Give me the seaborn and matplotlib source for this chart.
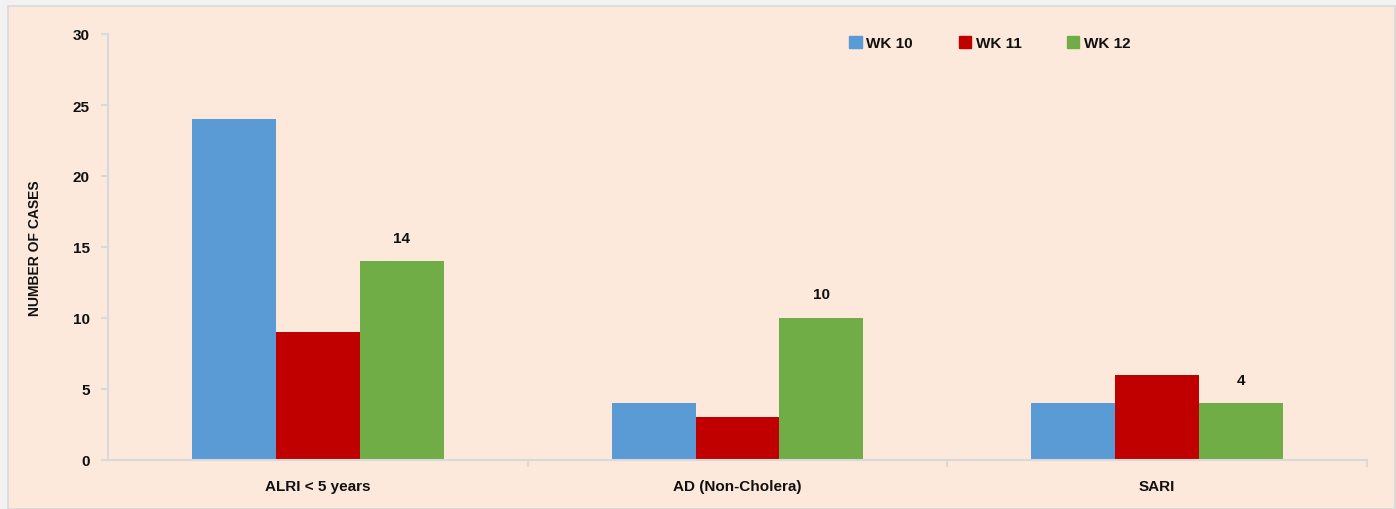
import matplotlib.pyplot as plt
import matplotlib.patches as mpatches
import pandas as pd
import seaborn as sns

categories = ['ALRI < 5 years', 'AD (Non-Cholera)', 'SARI']
weeks = ['WK 10', 'WK 11', 'WK 12']
wk10 = [24, 4, 4]
wk11 = [9, 3, 6]
wk12 = [14, 10, 4]
colors = ['#5b9bd5', '#c00000', '#70ad47']

df = pd.DataFrame({
    'category': categories * 3,
    'week': [w for w in weeks for _ in categories],
    'cases': wk10 + wk11 + wk12,
})

sns.set_style('white')
plt.rcParams['font.family'] = 'Liberation Sans'
plt.rcParams['font.weight'] = 'bold'
plt.rcParams['text.color'] = '#111111'

W, H = 1396, 510
fig = plt.figure(figsize=(W / 100, H / 100), dpi=100, facecolor='#f2f2f2')
bg = mpatches.Rectangle((8 / W, 0), (W - 9) / W, (H - 7) / H, transform=fig.transFigure,
                        facecolor='#fde9db', edgecolor='#d9d9d9', lw=1.2, zorder=-10)
fig.patches.append(bg)

ax = fig.add_axes([108 / W, (H - 461) / H, (1367 - 108) / W, (461 - 35) / H])
ax.set_facecolor('none')

sns.barplot(data=df, x='category', y='cases', hue='week', palette=colors,
            width=0.6, gap=0, saturation=1, linewidth=0, ax=ax, legend=False)

ax.set_ylim(0, 30)
ax.set_yticks(range(0, 31, 5))
ax.set_xlim(-0.5, 2.5)
ax.set_xticks([0, 1, 2])
ax.set_xticklabels(categories, fontsize=11, fontweight='bold', color='#111111')
ax.set_xticks([0.5, 1.5, 2.5], minor=True)
ax.tick_params(axis='x', which='major', bottom=True, length=0, pad=14)
ax.tick_params(axis='x', which='minor', bottom=True, length=5, color='#d9d9d9', width=1.5)
ax.tick_params(axis='y', left=True, length=5, color='#d9d9d9', width=1.5, labelsize=11,
               pad=8, labelcolor='#111111')
for lab in ax.get_yticklabels():
    lab.set_fontweight('bold')

for s in ['top', 'right']:
    ax.spines[s].set_visible(False)
for s in ['left', 'bottom']:
    ax.spines[s].set_color('#d9d9d9')
    ax.spines[s].set_linewidth(1.5)

ax.set_xlabel('')
ax.set_ylabel('NUMBER OF CASES', fontsize=10, fontweight='bold', labelpad=22,
              color='#111111')

# value labels on the WK 12 bars only
ax.bar_label(ax.containers[2], fontsize=11, fontweight='bold', padding=12,
             color='#111111')

handles = [mpatches.Patch(color=c, label=w) for c, w in zip(colors, weeks)]
fig.legend(handles=handles, ncol=3, frameon=False, loc='center',
           bbox_to_anchor=(990 / W, (H - 44) / H),
           handlelength=0.8, handleheight=0.8, handletextpad=0.3, columnspacing=3.0,
           prop={'family': 'Liberation Sans', 'weight': 'bold', 'size': 11})

fig.savefig('out.png', dpi=100, facecolor=fig.get_facecolor())
